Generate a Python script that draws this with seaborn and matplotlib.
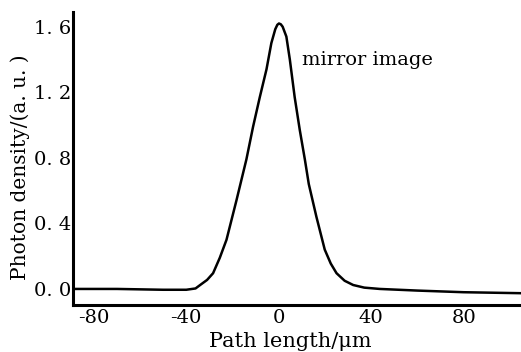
import matplotlib
matplotlib.use("Agg")
import matplotlib.pyplot as plt
import seaborn as sns
import pandas as pd

# Data
path_length = [-89, -70, -50, -40, -36, -34, -31, -28.4, -25.5, -22.6, -18.3, -14, -11.1,
               -8.2, -5.3, -3.2, -1.5, -0.6, 0.1, 0.9, 1.7, 3.3, 4.8, 6.9, 9.1, 11.3, 13,
               16.3, 19.9, 22.5, 25, 28.5, 32.2, 37, 43.7, 60, 80, 104.8]
photon_density = [0.0, 0.0, -0.005, -0.005, 0.003, 0.024, 0.055, 0.096, 0.19, 0.30, 0.54,
                  0.79, 0.99, 1.17, 1.34, 1.50, 1.585, 1.612, 1.62, 1.615, 1.60, 1.54, 1.40,
                  1.17, 0.97, 0.79, 0.64, 0.44, 0.24, 0.155, 0.096, 0.05, 0.024, 0.008, 0.0,
                  -0.01, -0.02, -0.026]
x_ticks = [-80, -40, 0, 40, 80]
y_ticks = [0.0, 0.4, 0.8, 1.2, 1.6]
y_tick_labels = ["0. 0", "0. 4", "0. 8", "1. 2", "1. 6"]
annotation = "mirror image"

sns.set_theme(style="white")
plt.rcParams['font.family'] = ['DejaVu Serif']
plt.rcParams['text.color'] = 'black'
plt.rcParams['axes.labelcolor'] = 'black'

df = pd.DataFrame({"x": path_length, "y": photon_density})

fig = plt.figure(figsize=(5.21, 3.52), dpi=100)
ax = fig.add_axes([73/521, 47/352, 1 - 73/521, (305-12)/352])
sns.lineplot(data=df, x="x", y="y", ax=ax, color="black", linewidth=1.8)

ax.set_xlim(-89, 104.8)
ax.set_ylim(-0.098, 1.69)
ax.set_xticks(x_ticks)
ax.set_xticklabels([str(v) for v in x_ticks])
ax.set_yticks(y_ticks)
ax.set_yticklabels(y_tick_labels)
ax.xaxis.get_major_ticks()[0].tick1line.set_visible(False)

for s in ["top", "right"]:
    ax.spines[s].set_visible(False)
for s in ["left", "bottom"]:
    ax.spines[s].set_linewidth(2.2)
    ax.spines[s].set_color("black")

ax.tick_params(axis="both", direction="in", length=7, width=2, colors="black",
               labelsize=14, pad=3)
ax.tick_params(axis="y", length=9, pad=1)

ax.set_xlabel("Path length/μm", fontsize=15, color="black")
ax.set_ylabel("Photon density/(a. u. )", fontsize=14.5, color="black")
ax.xaxis.set_label_coords(0.484, -0.092)
ax.yaxis.set_label_coords(-0.095, 0.47)
ax.text(10, 1.40, annotation, fontsize=14, ha="left", va="center", color="black")

fig.savefig("out.png", dpi=100)
